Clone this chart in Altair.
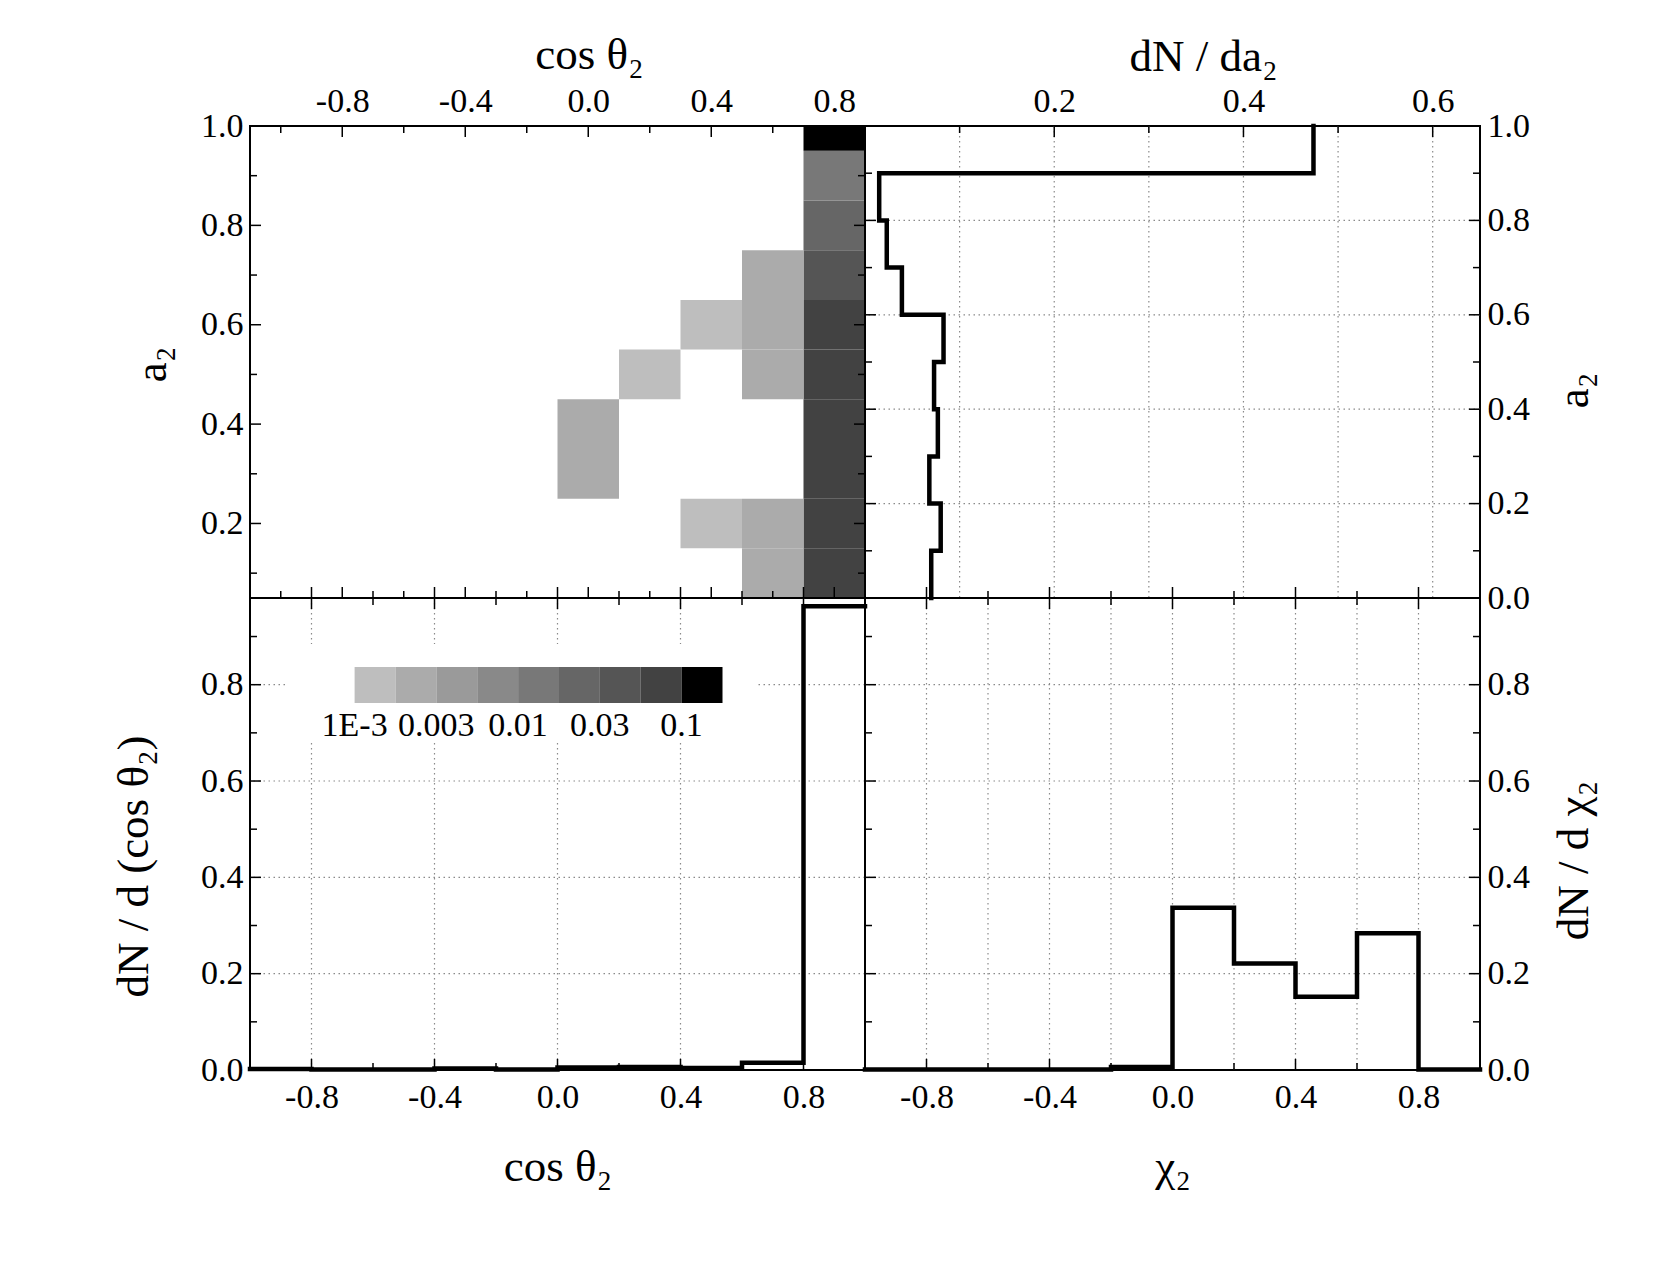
import altair as alt
import pandas as pd

W, H = 615, 472
FONT = "Liberation Serif"

# ---------------- data ----------------
# colour levels of the occupancy map (fraction of systems per cell)
level_edges = [0.001, 0.00178, 0.00316, 0.00562, 0.01, 0.0178, 0.0316, 0.0562, 0.1]
level_colors = ["#bebebe", "#ababab", "#9a9a9a", "#898989", "#787878",
                "#666666", "#555555", "#424242", "#000000"]
legend_labels = ["1E-3", "0.003", "0.01", "0.03", "0.1"]
legend_label_pos = [0, 2, 4, 6, 8]

# occupancy map cells: column centre on the image cos(theta2) axis, row centre on the image a2 axis
cell_cos = [0.8, 0.8, 0.8, 0.8, 0.8, 0.8, 0.8, 0.8, 0.8, 0.8,
            0.6, 0.6, 0.6, 0.6, 0.6,
            0.4, 0.4,
            0.2,
            0.0, 0.0]
cell_a2 = [0.1, 0.2, 0.3, 0.4, 0.5, 0.6, 0.7, 0.8, 0.9, 1.0,
           0.1, 0.2, 0.5, 0.6, 0.7,
           0.2, 0.6,
           0.5,
           0.3, 0.4]
cell_frac = [0.07, 0.07, 0.07, 0.07, 0.07, 0.07, 0.04, 0.022, 0.013, 0.47,
             0.003, 0.003, 0.003, 0.003, 0.003,
             0.0017, 0.0017,
             0.0017,
             0.0025, 0.0025]

# dN / da2 histogram
a2_edges = [0.0, 0.1, 0.2, 0.3, 0.4, 0.5, 0.6, 0.7, 0.8, 0.9, 1.0]
dN_da2 = [0.070, 0.080, 0.068, 0.077, 0.073, 0.083, 0.039, 0.023, 0.015, 0.474]

# dN / d(cos theta2) histogram
cos_edges = [-1.0, -0.8, -0.6, -0.4, -0.2, 0.0, 0.2, 0.4, 0.6, 0.8, 1.0]
dN_dcos = [0.002, 0.001, 0.001, 0.003, 0.001, 0.005, 0.006, 0.004, 0.015, 0.963]

# dN / d chi2 histogram
chi_edges = [-1.0, -0.8, -0.6, -0.4, -0.2, 0.0, 0.2, 0.4, 0.6, 0.8, 1.0]
dN_dchi = [0.001, 0.001, 0.001, 0.001, 0.006, 0.337, 0.221, 0.152, 0.284, 0.001]

# ---------------- helpers ----------------
def steps(edges, vals):
    e, v, k = [], [], []
    for i, val in enumerate(vals):
        e += [edges[i], edges[i + 1]]
        v += [val, val]
        k += [2 * i, 2 * i + 1]
    return pd.DataFrame({"e": e, "v": v, "k": k})


def hticks(vals, scale, axis, x0, x1):
    return alt.Chart(pd.DataFrame({"v": vals})).mark_rule(color="black", strokeWidth=1.5).encode(
        y=alt.Y("v:Q", scale=scale, axis=axis), x=alt.value(x0), x2=alt.value(x1))


def vticks(vals, scale, axis, y0, y1):
    return alt.Chart(pd.DataFrame({"v": vals})).mark_rule(color="black", strokeWidth=1.5).encode(
        x=alt.X("v:Q", scale=scale, axis=axis), y=alt.value(y0), y2=alt.value(y1))


GRID = dict(color="#8a8a8a", strokeWidth=1.2, strokeDash=[1.5, 3.5])


def hgrid(vals, scale, axis):
    return alt.Chart(pd.DataFrame({"v": vals})).mark_rule(**GRID).encode(
        y=alt.Y("v:Q", scale=scale, axis=axis))


def vgrid(vals, scale, axis):
    return alt.Chart(pd.DataFrame({"v": vals})).mark_rule(**GRID).encode(
        x=alt.X("v:Q", scale=scale, axis=axis))


AX = dict(domain=False, ticks=False, tickSize=0, grid=False, labelFlush=False, labelOverlap=False,
          labelFontSize=34, titleFontSize=45, labelFont=FONT, titleFont=FONT, labelColor="black",
          titleColor="black", titleFontWeight="normal", format=".1f",
          labelExpr="replace(datum.label, '\u2212', '-')", titleAlign="center",
          titleBaseline="alphabetic")


def ax_top(values, title, tx, ty):
    return alt.Axis(orient="top", values=values, labelPadding=15, labelBaseline="alphabetic",
                    title=title, titleX=tx, titleY=ty, **AX)


def ax_bottom(values, title):
    return alt.Axis(orient="bottom", values=values, labelPadding=37, labelBaseline="alphabetic",
                    title=title, titleX=W / 2, titleY=110, **AX)


def ax_left(values, title, tx, ty):
    return alt.Axis(orient="left", values=values, labelPadding=7, labelAlign="right",
                    labelBaseline="middle", title=title, titleAngle=270, titleX=tx, titleY=ty, **AX)


def ax_right(values, title, tx, ty):
    return alt.Axis(orient="right", values=values, labelPadding=7, labelAlign="left",
                    labelBaseline="middle", title=title, titleAngle=270, titleX=tx, titleY=ty, **AX)


LINE = dict(color="black", strokeWidth=4.5, strokeJoin="miter", strokeCap="square")

# scales
sx_img = alt.Scale(domain=[-1.1, 0.9], nice=False, zero=False)
sy_img = alt.Scale(domain=[0.05, 1.0], nice=False, zero=False)
sx_da = alt.Scale(domain=[0, 0.65], nice=False, zero=False)
sy_a2 = alt.Scale(domain=[0, 1], nice=False, zero=False)
sx_pm = alt.Scale(domain=[-1, 1], nice=False, zero=False)
sy_dn = alt.Scale(domain=[0, 0.98], nice=False, zero=False)

maj_pm = [-0.8, -0.4, 0.0, 0.4, 0.8]
min_pm = [-1.0, -0.6, -0.2, 0.2, 0.6]
min_pm_in = [-0.6, -0.2, 0.2, 0.6]
maj_01 = [0.2, 0.4, 0.6, 0.8, 1.0]
min_01 = [0.1, 0.3, 0.5, 0.7, 0.9]
maj_in = [0.2, 0.4, 0.6, 0.8]

# ---------------- top-left: occupancy map ----------------
tl_x = ax_top(maj_pm, "cos θ₂", 339, -58)
tl_y = ax_left(maj_01, "a₂", -85, 238)
heat = alt.Chart(pd.DataFrame({"c": cell_cos, "a": cell_a2, "f": cell_frac})).transform_calculate(
    x0="datum.c - 0.1", x1="datum.c + 0.1", y0="datum.a - 0.05", y1="datum.a + 0.05"
).mark_rect(clip=True).encode(
    x=alt.X("x0:Q", scale=sx_img, axis=tl_x), x2="x1:Q",
    y=alt.Y("y0:Q", scale=sy_img, axis=tl_y), y2="y1:Q",
    color=alt.Color("f:Q", scale=alt.Scale(type="threshold", domain=level_edges,
                                           range=["#ffffff"] + level_colors), legend=None),
)
TL = alt.layer(
    heat,
    hticks(maj_01, sy_img, tl_y, 0, 11), hticks(min_01, sy_img, tl_y, 0, 7),
    hticks(maj_01, sy_img, tl_y, W, W - 11), hticks(min_01, sy_img, tl_y, W, W - 7),
    vticks(maj_pm, sx_img, tl_x, 0, 11), vticks(min_pm, sx_img, tl_x, 0, 7),
    vticks(maj_pm, sx_img, tl_x, H, H - 11), vticks(min_pm, sx_img, tl_x, H, H - 7),
).properties(width=W, height=H)

# ---------------- top-right: dN/da2 ----------------
tr_x = ax_top([0.2, 0.4, 0.6], "dN / da₂", 338, -56)
tr_y = ax_right([0.0, 0.2, 0.4, 0.6, 0.8, 1.0], "a₂", 107, 264)
tr_line = alt.Chart(steps(a2_edges, dN_da2)).mark_line(**LINE).encode(
    x=alt.X("v:Q", scale=sx_da, axis=tr_x),
    y=alt.Y("e:Q", scale=sy_a2, axis=tr_y),
    order="k:Q",
)
TR = alt.layer(
    vgrid([0.1, 0.2, 0.3, 0.4, 0.5, 0.6], sx_da, tr_x),
    hgrid(maj_in, sy_a2, tr_y),
    vticks([0.2, 0.4, 0.6], sx_da, tr_x, 0, 11), vticks([0.1, 0.3, 0.5], sx_da, tr_x, 0, 7),
    hticks(maj_in, sy_a2, tr_y, 0, 11), hticks(min_01, sy_a2, tr_y, 0, 7),
    hticks(maj_in, sy_a2, tr_y, W, W - 11), hticks(min_01, sy_a2, tr_y, W, W - 7),
    tr_line,
).properties(width=W, height=H)

# ---------------- bottom-left: dN/d(cos theta2) ----------------
bl_x = ax_bottom(maj_pm, "cos θ₂")
bl_y = ax_left([0.0, 0.2, 0.4, 0.6, 0.8], "dN / d (cos θ₂)", -103, 268)
bl_line = alt.Chart(steps(cos_edges, dN_dcos)).mark_line(**LINE).encode(
    x=alt.X("e:Q", scale=sx_pm, axis=bl_x),
    y=alt.Y("v:Q", scale=sy_dn, axis=bl_y),
    order="k:Q",
)
bl_main = alt.layer(
    vgrid(maj_pm, sx_pm, bl_x),
    hgrid(maj_in, sy_dn, bl_y),
    hticks(maj_in, sy_dn, bl_y, 0, 11), hticks(min_01, sy_dn, bl_y, 0, 7),
    vticks(maj_pm, sx_pm, bl_x, H, H - 11), vticks(min_pm_in, sx_pm, bl_x, H, H - 7),
    vticks(maj_pm, sx_pm, bl_x, -11, 11), vticks(min_pm_in, sx_pm, bl_x, -7, 7),
    bl_line,
)

# colour-scale legend drawn inside the lower-left panel
lx = alt.Scale(domain=[0, 9], range=[104.6, 472.5], nice=False, zero=False)
leg_bg = alt.Chart(pd.DataFrame({"d": [0]})).mark_rect(color="white").encode(
    x=alt.value(36), x2=alt.value(507), y=alt.value(46), y2=alt.value(143))
leg_boxes = alt.Chart(pd.DataFrame({"i": list(range(9)), "i1": list(range(1, 10)),
                                    "c": level_colors})).mark_rect().encode(
    x=alt.X("i:Q", scale=lx, axis=None), x2="i1:Q",
    y=alt.value(69), y2=alt.value(105),
    color=alt.Color("c:N", scale=None, legend=None))
leg_text = alt.Chart(pd.DataFrame({"p": legend_label_pos, "t": legend_labels})).mark_text(
    font=FONT, fontSize=34, baseline="alphabetic", align="center", color="black").encode(
    x=alt.X("p:Q", scale=lx, axis=None), y=alt.value(138), text="t:N")
legend = alt.layer(leg_bg, leg_boxes, leg_text)

BL = alt.layer(bl_main, legend).resolve_scale(x="independent").properties(width=W, height=H)

# ---------------- bottom-right: dN/d chi2 ----------------
br_x = ax_bottom(maj_pm, "χ₂")
br_y = ax_right([0.0, 0.2, 0.4, 0.6, 0.8], "dN / d χ₂", 107, 262)
br_line = alt.Chart(steps(chi_edges, dN_dchi)).mark_line(**LINE).encode(
    x=alt.X("e:Q", scale=sx_pm, axis=br_x),
    y=alt.Y("v:Q", scale=sy_dn, axis=br_y),
    order="k:Q",
)
BR = alt.layer(
    vgrid([-0.8, -0.6, -0.4, -0.2, 0.0, 0.2, 0.4, 0.6, 0.8], sx_pm, br_x),
    hgrid(maj_in, sy_dn, br_y),
    hticks(maj_in, sy_dn, br_y, 0, 11), hticks(min_01, sy_dn, br_y, 0, 7),
    hticks(maj_in, sy_dn, br_y, W, W - 11), hticks(min_01, sy_dn, br_y, W, W - 7),
    vticks(maj_pm, sx_pm, br_x, H, H - 11), vticks(min_pm_in, sx_pm, br_x, H, H - 7),
    vticks(maj_pm, sx_pm, br_x, -11, 11), vticks(min_pm_in, sx_pm, br_x, -7, 7),
    br_line,
).properties(width=W, height=H)

# the whole 2x2 block is placed by the padding; the svg is padding-sized (1667 x 1278)
chart = alt.concat(TL, TR, BL, BR, columns=2, spacing=0, bounds="flush").properties(
    autosize=alt.AutoSizeParams(type="none"),
    padding={"left": 250, "top": 126, "right": 1417, "bottom": 1152}, background="white"
).configure(font=FONT).configure_view(stroke="black", strokeWidth=2)

chart.save("out.html", embed_options={"renderer": "svg", "actions": False})
